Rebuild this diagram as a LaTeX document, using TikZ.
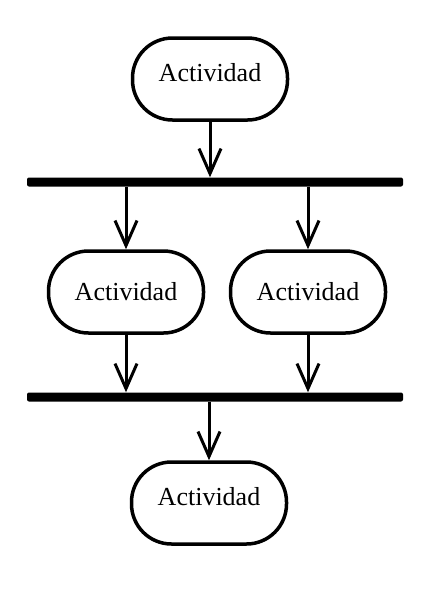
\documentclass[tikz,border=0pt]{standalone}
\usepackage{fontspec}
\setmainfont{Liberation Serif}
\usetikzlibrary{arrows.meta}

\begin{document}
\begin{tikzpicture}[x=1pt, y=-1pt,
  actividad/.style={draw, line width=3.5pt, rounded corners=40pt, minimum width=155pt, minimum height=82pt, inner sep=0pt, font=\fontsize{26}{30}\selectfont},
  alto/.style={text depth=14pt},
  barra/.style={fill=black, rounded corners=2pt, minimum width=376pt, minimum height=9pt, inner sep=0pt},
  flecha/.style={line width=3pt, -{Straight Barb[length=25pt, width=22pt]}}]
 \useasboundingbox (0,0) rectangle (432,600);
 \node [actividad, alto] (act1) at (210, 79) {Actividad};
 \node [barra] (fork) at (215, 182) {};
 \node [actividad] (act2) at (126, 292) {Actividad};
 \node [actividad] (act3) at (308, 292) {Actividad};
 \node [barra] (join) at (215, 397) {};
 \node [actividad, alto] (act4) at (209, 503) {Actividad};
 \draw [flecha] (act1.south) -- (act1.south |- fork.north);
 \draw [flecha] (fork.south -| act2.north) -- (act2.north);
 \draw [flecha] (fork.south -| act3.north) -- (act3.north);
 \draw [flecha] (act2.south) -- (act2.south |- join.north);
 \draw [flecha] (act3.south) -- (act3.south |- join.north);
 \draw [flecha] (join.south -| act4.north) -- (act4.north);
\end{tikzpicture}
\end{document}
